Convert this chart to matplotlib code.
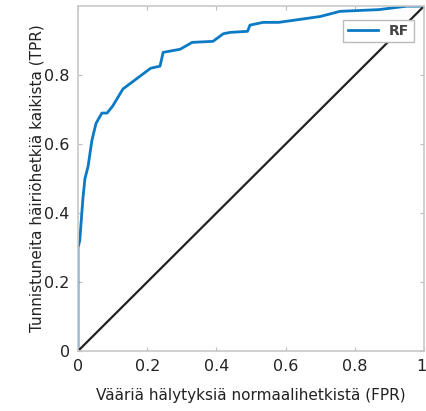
import numpy as np
import matplotlib
matplotlib.use('Agg')
import matplotlib.pyplot as plt
import matplotlib.transforms as mtransforms

# ROC curve points
fpr = [0.0, 0.0, 0.005, 0.014, 0.02, 0.029, 0.04, 0.052, 0.069, 0.084, 0.10,
       0.13, 0.17, 0.21, 0.237, 0.246, 0.295, 0.33, 0.39, 0.42, 0.44, 0.49,
       0.497, 0.535, 0.58, 0.70, 0.757, 0.87, 0.95, 1.0]
tpr = [0.0, 0.30, 0.32, 0.44, 0.50, 0.535, 0.61, 0.66, 0.69, 0.69, 0.71,
       0.76, 0.79, 0.82, 0.826, 0.866, 0.875, 0.895, 0.898, 0.92, 0.924, 0.927,
       0.945, 0.953, 0.953, 0.97, 0.985, 0.99, 1.0, 1.0]
diag = [0, 1]
ticks = [0, 0.2, 0.4, 0.6, 0.8, 1]
tick_labels = ['0', '0.2', '0.4', '0.6', '0.8', '1']

fig = plt.figure(figsize=(4.27, 4.11), dpi=100)
ax = fig.add_axes([0.1827, 0.146, 0.8103, 0.839])

ax.plot(fpr, tpr, color='#0a7ac4', lw=2.0, label='RF')
ax.plot(diag, diag, color='#222222', lw=1.6)

ax.set_xlim(0, 1)
ax.set_ylim(0, 1)
ax.set_xticks(ticks)
ax.set_xticklabels(tick_labels)
ax.set_yticks(ticks[:-1])
ax.set_yticklabels(tick_labels[:-1])
ax.tick_params(direction='in', length=3, color='#bbbbbb', labelsize=11.5,
               labelcolor='#222222', top=True, right=True, pad=6)
for s in ax.spines.values():
    s.set_color('#c8c8c8')
    s.set_linewidth(1.2)

# nudge last x tick label so it stays inside the figure
last = ax.get_xticklabels()[-1]
last.set_transform(last.get_transform() +
                   mtransforms.ScaledTranslation(-3 / 100, 0, fig.dpi_scale_trans))

ax.set_xlabel('Vääriä hälytyksiä normaalihetkistä (FPR)', fontsize=11,
              color='#222222', labelpad=10)
ax.set_ylabel('Tunnistuneita häiriöhetkiä kaikista (TPR)', fontsize=11,
              color='#222222', labelpad=0)

leg = ax.legend(loc='upper right', bbox_to_anchor=(0.99, 0.98),
                fontsize=10, handlelength=2.2, borderpad=0.3,
                fancybox=False, framealpha=1)
leg.get_frame().set_edgecolor('#bbbbbb')
for t in leg.get_texts():
    t.set_fontweight('bold')
    t.set_color('#444444')

fig.savefig('out.png', dpi=100)
